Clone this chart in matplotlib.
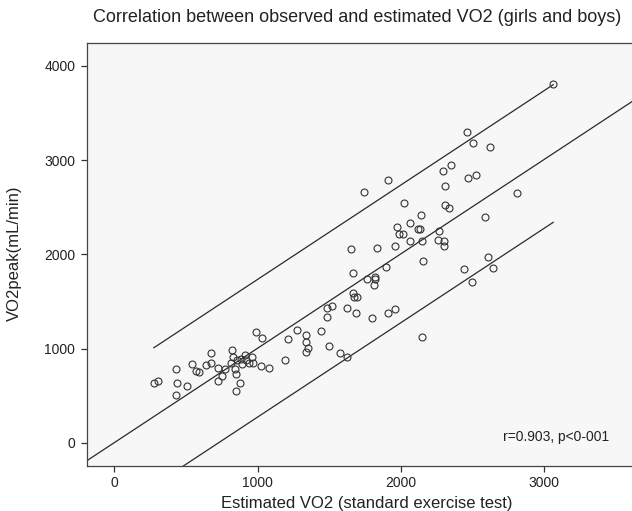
import numpy as np
import matplotlib
matplotlib.use("Agg")
import matplotlib.pyplot as plt

plt.rcParams['font.family'] = ['Liberation Sans', 'DejaVu Sans']

# Estimated VO2 (x) and observed VO2peak (y), mL/min
est_vo2 = [275, 303, 431, 440, 431, 508, 543, 571, 587, 636,
           676, 674, 720, 720, 753, 769, 820, 816, 828, 839,
           851, 846, 874, 858, 886, 909, 916, 939, 963, 965,
           893, 986, 1030, 1026, 1079, 1189, 1212, 1275, 1340, 1340,
           1352, 1340, 1445, 1499, 1487, 1487, 1522, 1578, 1625, 1625,
           2021, 2310, 2340, 2142, 2587, 1977, 2063, 1989, 2017, 2121,
           2133, 2270, 2259, 2303, 2301, 2065, 2151, 1960, 1837, 1655,
           2154, 1667, 1900, 1765, 1818, 1823, 1811, 2445, 2606, 2643,
           2501, 1667, 1674, 1695, 1685, 1802, 1913, 1958, 2149,
           3065, 2466, 2503, 2620, 2350, 2298, 2469, 2524, 2306, 2811,
           1743, 1911]
obs_vo2 = [633, 657, 781, 640, 512, 604, 841, 764, 756, 830,
           951, 845, 792, 657, 710, 785, 983, 845, 909, 781,
           732, 551, 640, 880, 891, 933, 880, 845, 915, 845,
           838, 1180, 1110, 817, 799, 880, 1100, 1198, 1145, 1074,
           1004, 962, 1191, 1029, 1339, 1428, 1453, 951, 915, 1428,
           2548, 2520, 2492, 2414, 2397, 2287, 2336, 2216, 2216, 2266,
           2273, 2248, 2153, 2145, 2092, 2139, 2145, 2089, 2064, 2057,
           1933, 1800, 1863, 1739, 1757, 1739, 1676, 1845, 1976, 1853,
           1711, 1588, 1545, 1552, 1382, 1326, 1375, 1421, 1127,
           3810, 3298, 3178, 3136, 2951, 2881, 2807, 2842, 2725, 2651,
           2659, 2789]

# Fit line and prediction band
fit_slope = 1.0
fit_intercept = 5
band_half_width = 730

x_ticks = [0, 1000, 2000, 3000]
y_ticks = [0, 1000, 2000, 3000, 4000]

title = "Correlation between observed and estimated VO2 (girls and boys)"
xlabel = "Estimated VO2 (standard exercise test)"
ylabel = "VO2peak(mL/min)"
stat_text = "r=0.903, p<0-001"

fig = plt.figure(figsize=(6.32, 5.11), dpi=100)
ax = fig.add_axes([87 / 632, (511 - 466) / 511, (660 - 87) / 632, (466 - 42.5) / 511])
ax.set_facecolor('#f7f7f7')

xlim = (-192, 3811)
ylim = (-244, 4247)
ax.set_xlim(*xlim)
ax.set_ylim(*ylim)

line_col = '#2a2a2a'
# regression line across the whole axis
xf = np.array(xlim)
ax.plot(xf, fit_intercept + fit_slope * xf, color=line_col, lw=0.9)
# prediction lines across the data range
xr = np.array([min(est_vo2), max(est_vo2)])
ax.plot(xr, fit_intercept + fit_slope * xr + band_half_width, color=line_col, lw=0.9)
ax.plot(xr, fit_intercept + fit_slope * xr - band_half_width, color=line_col, lw=0.9)

ax.plot(est_vo2, obs_vo2, linestyle='none', marker='o', markersize=5,
        markerfacecolor='none', markeredgecolor='#333333', markeredgewidth=0.8)

ax.set_xticks(x_ticks)
ax.set_yticks(y_ticks)
ax.tick_params(direction='out', length=4, width=0.9, color='#333333',
               labelsize=10, labelcolor='#222222')
ax.tick_params(axis='y', pad=4.5)
for s in ax.spines.values():
    s.set_color('#444444')
    s.set_linewidth(0.9)

ax.text(2713, 64, stat_text, fontsize=10, color='#222222', ha='left', va='center')

fig.text(357 / 632, 1 - 17 / 511, title, fontsize=13, color='#222222', ha='center', va='center')
fig.text(367 / 632, 1 - 503 / 511, xlabel, fontsize=12, color='#222222', ha='center', va='center')
fig.text(14 / 632, 1 - 253 / 511, ylabel, fontsize=12, color='#222222', ha='center', va='center', rotation=90)

fig.savefig('out.png', dpi=100)
